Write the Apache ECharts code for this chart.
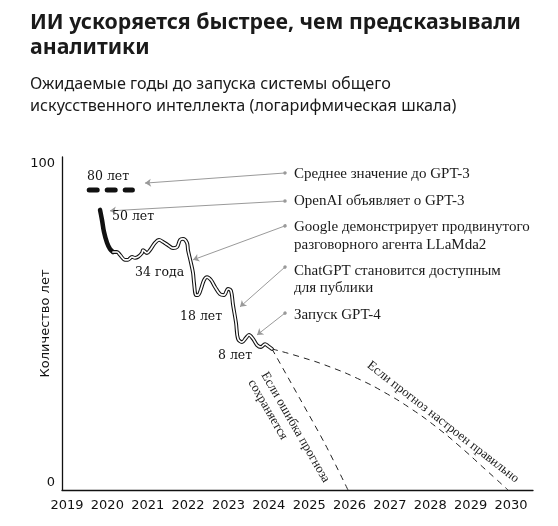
<!DOCTYPE html>
<html>
<head>
<meta charset="utf-8">
<script src="https://cdn.jsdelivr.net/npm/echarts@6/dist/echarts.min.js"></script>
<style>html,body{margin:0;padding:0;background:#fff}#c{width:558px;height:526px}</style>
</head>
<body>
<div id="c"></div>
<script>
// ---- data ----
var yearTicks = [2019, 2020, 2021, 2022, 2023, 2024, 2025, 2026, 2027, 2028, 2029, 2030];
var valueTicks = [0, 100];

// average forecast before GPT-3 (80 years)
var avgX = [2019.55, 2020.62];
var avgY = [91.9, 91.9];

// forecast after GPT-3 announcement (thick segment)
var earlyX = [2019.818, 2019.867, 2019.917, 2019.991, 2020.065, 2020.139];
var earlyY = [85.8, 82.7, 79.0, 75.7, 73.8, 72.9];

// forecast, main wiggly line
var mainX = [2020.139, 2020.239, 2020.313, 2020.437, 2020.511, 2020.611, 2020.685, 2020.759, 2020.858, 2020.883,
  2020.982, 2021.057, 2021.180, 2021.280, 2021.379, 2021.502, 2021.626, 2021.725, 2021.800, 2021.874,
  2021.973, 2021.998, 2022.072, 2022.122, 2022.147, 2022.196, 2022.246, 2022.320, 2022.394, 2022.469,
  2022.568, 2022.667, 2022.791, 2022.890, 2022.989, 2023.063, 2023.113, 2023.187, 2023.237, 2023.336,
  2023.435, 2023.509, 2023.608, 2023.708, 2023.807, 2023.906, 2023.980, 2024.079];
var mainY = [72.9, 72.9, 72.0, 70.5, 70.5, 71.4, 71.1, 71.4, 72.6, 73.5,
  72.6, 73.5, 75.7, 76.6, 76.0, 75.0, 74.1, 74.4, 76.6, 76.9,
  75.7, 73.5, 69.5, 66.5, 63.4, 59.7, 59.7, 61.6, 64.3, 65.2,
  64.3, 62.2, 60.0, 59.7, 61.6, 61.0, 56.7, 51.2, 46.3, 45.3,
  46.6, 47.5, 46.3, 44.4, 43.8, 44.7, 44.1, 43.2];

// projection if forecast error persists
var errX = [2024.079, 2024.773, 2025.392, 2025.962];
var errY = [43.2, 27.9, 14.1, 0];

// projection if forecast is calibrated
var calX = [2024.079, 2024.773, 2025.516, 2026.260, 2026.879, 2027.498, 2028.118, 2028.737, 2029.357, 2029.927];
var calY = [43.2, 40.8, 37.7, 33.8, 29.8, 25.1, 19.6, 13.3, 6.4, 0];

// callout arrows: [text end] -> [chart end]
var arrowFromX = [2024.401, 2024.401, 2024.401, 2024.401, 2024.401];
var arrowFromY = [97.1, 88.5, 80.9, 68.3, 54.2];
var arrowToX = [2020.932, 2020.065, 2022.122, 2023.286, 2023.708];
var arrowToY = [94.0, 85.5, 70.5, 56.1, 47.5];

// callout texts
var noteTexts = ['Среднее значение до GPT-3', 'OpenAI объявляет о GPT-3', 'Google демонстрирует продвинутого',
  'разговорного агента LLaMda2', 'ChatGPT становится доступным', 'для публики', 'Запуск GPT-4'];
var noteX = [2024.624, 2024.624, 2024.624, 2024.624, 2024.624, 2024.624, 2024.624];
var noteY = [96.8, 88.5, 80.6, 75.0, 67.1, 61.9, 53.6];

// value labels
var valTexts = ['80 лет', '50 лет', '34 года', '18 лет', '8 лет'];
var valX = [2019.496, 2020.115, 2020.685, 2021.800, 2022.741];
var valY = [95.9, 83.6, 66.5, 53.0, 41.1];

// rotated projection labels
var projTexts = ['Если ошибка прогноза', 'сохраняется', 'Если прогноз настроен правильно'];
var projX = [2023.881, 2023.559, 2028.316];
var projY = [35.8, 33.5, 20.8];
var projRot = [-60, -60, -38];
var projAlign = ['left', 'left', 'center'];

function zip(xs, ys) { return xs.map(function (x, i) { return [x, ys[i]]; }); }

var chart = echarts.init(document.getElementById('c'), null, {renderer: 'canvas'});

var textItems = [];
noteTexts.forEach(function (t, i) { textItems.push({value: [noteX[i], noteY[i]], t: t, kind: 'note', rot: 0, align: 'left'}); });
valTexts.forEach(function (t, i) { textItems.push({value: [valX[i], valY[i]], t: t, kind: 'val', rot: 0, align: 'left'}); });
projTexts.forEach(function (t, i) { textItems.push({value: [projX[i], projY[i]], t: t, kind: 'proj', rot: projRot[i], align: projAlign[i]}); });

var arrows = arrowFromX.map(function (x, i) { return {coords: [[x, arrowFromY[i]], [arrowToX[i], arrowToY[i]]]}; });

var option = {
  animation: false,
  backgroundColor: '#fff',
  title: [
    {text: 'ИИ ускоряется быстрее, чем предсказывали\nаналитики', left: 30, top: 10, padding: 0,
     textStyle: {fontFamily: 'Noto Sans', fontWeight: 'bold', fontSize: 21.3, lineHeight: 25, color: '#1a1a1a'}},
    {text: 'Ожидаемые годы до запуска системы общего\nискусственного интеллекта (логарифмическая шкала)', left: 30, top: 73, padding: 0,
     textStyle: {fontFamily: 'Noto Sans', fontWeight: 'normal', fontSize: 16.2, lineHeight: 22, color: '#1a1a1a'}}
  ],
  grid: {left: 62, right: 25, top: 157, bottom: 36, containLabel: false},
  xAxis: {
    type: 'value', min: 2018.876, max: 2030.545,
    axisLine: {show: true, lineStyle: {color: '#111', width: 1.3}},
    axisTick: {show: false},
    splitLine: {show: false},
    axisLabel: {customValues: yearTicks, margin: 9, color: '#111', fontFamily: 'DejaVu Sans', fontSize: 13,
      formatter: function (v) { return String(v); }}
  },
  yAxis: {
    type: 'value', min: 0, max: 102,
    name: 'Количество лет', nameLocation: 'middle', nameGap: 10, nameRotate: 90, nameMoveOverlap: false,
    nameTextStyle: {fontFamily: 'DejaVu Sans', fontSize: 13, color: '#111'},
    axisLine: {show: true, lineStyle: {color: '#111', width: 1.3}},
    axisTick: {show: false},
    splitLine: {show: false},
    axisLabel: {customValues: valueTicks, margin: 7, color: '#111', fontFamily: 'DejaVu Sans', fontSize: 13,
      formatter: function (v) { return v === 0 ? '{z|0}' : '{h|' + v + '}'; },
      rich: {z: {fontFamily: 'DejaVu Sans', fontSize: 13, color: '#111', padding: [0, 0, 14, 0]},
             h: {fontFamily: 'DejaVu Sans', fontSize: 13, color: '#111'}}}
  },
  series: [
    {type: 'line', data: zip(avgX, avgY), showSymbol: false, symbol: 'none',
     lineStyle: {color: '#111', width: 5, type: [8, 10], cap: 'round'}},
    {type: 'line', data: zip(errX, errY), showSymbol: false, symbol: 'none', smooth: 0.3,
     lineStyle: {color: '#222', width: 1, type: [6, 5]}},
    {type: 'line', data: zip(calX, calY), showSymbol: false, symbol: 'none', smooth: 0.5,
     lineStyle: {color: '#222', width: 1, type: [6, 5]}},
    {type: 'line', data: zip(earlyX, earlyY), showSymbol: false, symbol: 'none', smooth: 0.4,
     lineStyle: {color: '#111', width: 4.5, cap: 'round', join: 'round'}},
    {type: 'line', data: zip(mainX, mainY), showSymbol: false, symbol: 'none', smooth: 0.35,
     lineStyle: {color: '#111', width: 3.8, join: 'round', cap: 'round'}},
    {type: 'line', data: zip(mainX, mainY), showSymbol: false, symbol: 'none', smooth: 0.35,
     lineStyle: {color: '#fff', width: 1.7, join: 'round', cap: 'round'}},
    {type: 'lines', coordinateSystem: 'cartesian2d', data: arrows, silent: true,
     symbol: ['circle', 'arrow'], symbolSize: [3.5, 6],
     lineStyle: {color: '#9a9a9a', width: 1, opacity: 1}},
    {type: 'custom', data: textItems, silent: true, clip: false,
     renderItem: function (params, api) {
       var it = textItems[params.dataIndex];
       var p = api.coord([api.value(0), api.value(1)]);
       var ff, fs, col;
       if (it.kind === 'note') { ff = 'Liberation Serif'; fs = 15; col = '#1a1a1a'; }
       else if (it.kind === 'val') { ff = 'DejaVu Serif'; fs = 12.5; col = '#111'; }
       else { ff = 'Liberation Serif'; fs = 13; col = '#1a1a1a'; }
       return {type: 'text', x: p[0], y: p[1], rotation: it.rot * Math.PI / 180,
         style: {text: it.t, fill: col, fontFamily: ff, fontSize: fs, align: it.align, verticalAlign: 'middle'}};
     }}
  ]
};
chart.setOption(option);
</script>
</body>
</html>
